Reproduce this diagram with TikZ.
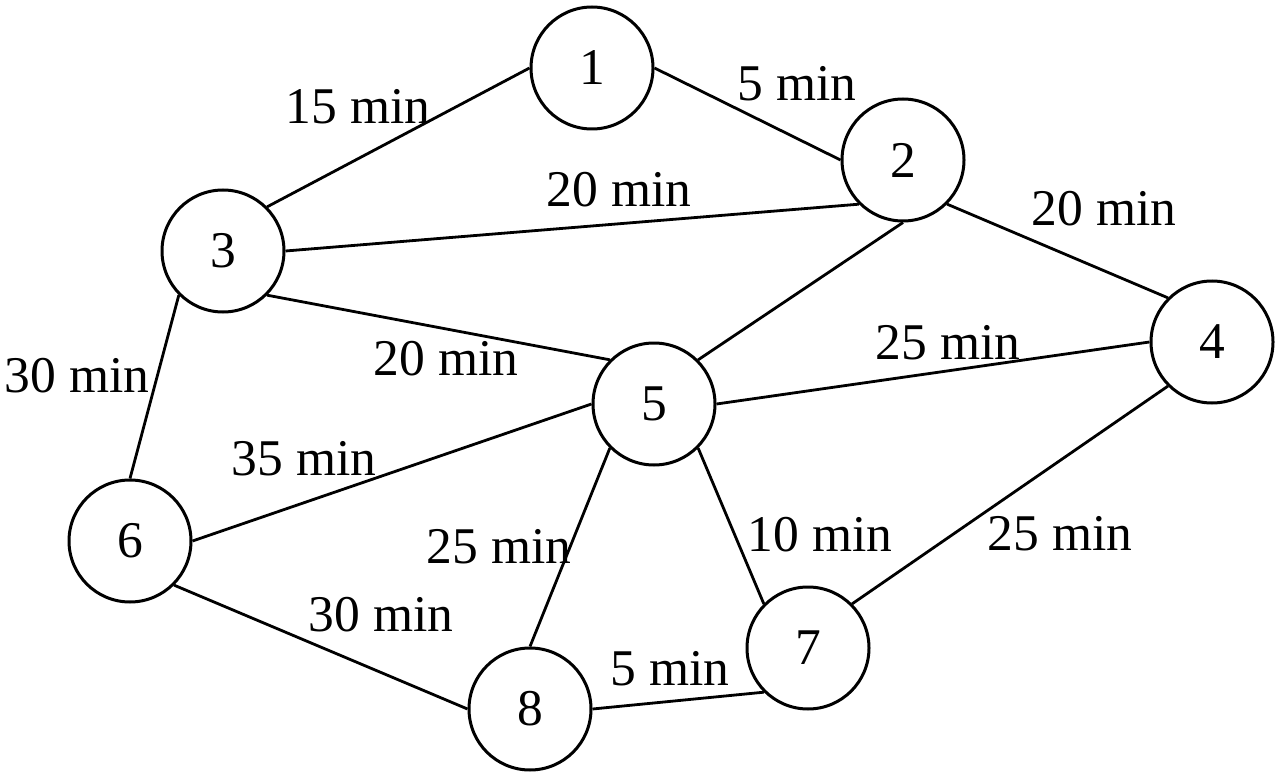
\documentclass[tikz,border=0pt]{standalone}
\usepackage{fontspec}
\setmainfont{Liberation Serif}
\begin{document}
\begin{tikzpicture}[x=1pt,y=-1pt,
  vtx/.style={circle,draw,line width=3pt,minimum size=122pt,inner sep=0pt,font=\fontsize{51.5}{60}\selectfont},
  lbl/.style={inner sep=0pt,font=\fontsize{51.5}{60}\selectfont},
  edge/.style={line width=2.8pt}]
\useasboundingbox (0,0) rectangle (1280,778);
\node[vtx] (n1) at (592,68) {1};
\node[vtx] (n2) at (903,160) {2};
\node[vtx] (n3) at (223,251) {3};
\node[vtx] (n4) at (1212,342) {4};
\node[vtx] (n5) at (654,404) {5};
\node[vtx] (n6) at (130,541) {6};
\node[vtx] (n7) at (808,648) {7};
\node[vtx] (n8) at (530,709) {8};
\draw[edge] (n3.north east) -- (n1.west);
\draw[edge] (n1.east) -- (n2.west);
\draw[edge] (n3.east) -- (n2.south west);
\draw[edge] (n2.south east) -- (n4.north west);
\draw[edge] (n2.south) -- (n5.north east);
\draw[edge] (n3.south east) -- (n5.north west);
\draw[edge] (n3.south west) -- (n6.north);
\draw[edge] (n5.east) -- (n4.west);
\draw[edge] (n6.east) -- (n5.west);
\draw[edge] (n5.south west) -- (n8.north);
\draw[edge] (n5.south east) -- (n7.north west);
\draw[edge] (n4.south west) -- (n7.north east);
\draw[edge] (n6.south east) -- (n8.west);
\draw[edge] (n8.east) -- (n7.south west);
\node[lbl] (l31) at (358,107) {15 min};
\node[lbl] (l12) at (797,84) {5 min};
\node[lbl] (l32) at (619,190) {20 min};
\node[lbl] (l24) at (1104,209) {20 min};
\node[lbl] (l36) at (77,376) {30 min};
\node[lbl] (l35) at (446,359) {20 min};
\node[lbl] (l54) at (948,343) {25 min};
\node[lbl] (l65) at (304,459) {35 min};
\node[lbl] (l58) at (499,547) {25 min};
\node[lbl] (l57) at (820,535) {10 min};
\node[lbl] (l47) at (1060,534) {25 min};
\node[lbl] (l68) at (381,615) {30 min};
\node[lbl] (l87) at (670,669) {5 min};
\end{tikzpicture}
\end{document}
